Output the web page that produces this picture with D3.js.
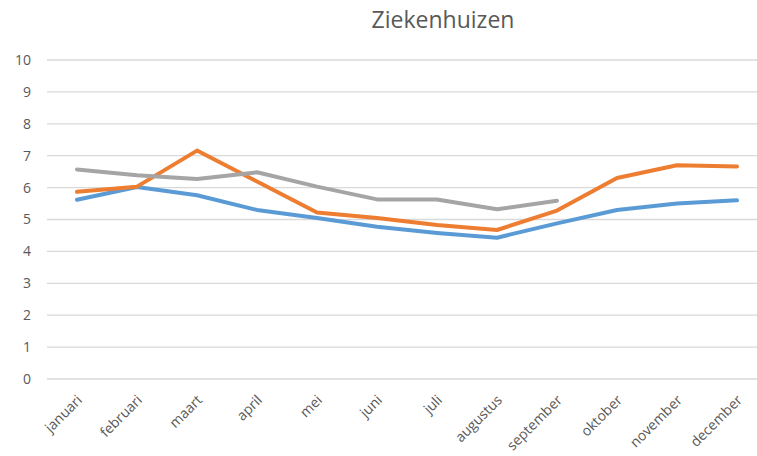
<!DOCTYPE html>
<html>
<head>
<meta charset="utf-8">
<script src="https://cdn.jsdelivr.net/npm/d3@7"></script>
<style>
  body { margin: 0; background: #fff; }
  svg { display: block; font-family: "Open Sans", "Noto Sans", sans-serif; }
</style>
</head>
<body>
<div id="chart-container"></div>
<script>
const months = ['januari', 'februari', 'maart', 'april', 'mei', 'juni', 'juli',
  'augustus', 'september', 'oktober', 'november', 'december'];
const blueValues = [5.62, 6.02, 5.76, 5.3, 5.05, 4.77, 4.58, 4.43, 4.88, 5.3, 5.5, 5.6];
const orangeValues = [5.87, 6.03, 7.16, 6.19, 5.22, 5.05, 4.83, 4.67, 5.28, 6.3, 6.7, 6.66];
const greyValues = [6.57, 6.39, 6.27, 6.48, 6.03, 5.63, 5.63, 5.32, 5.59, null, null, null];
const yTicks = [0, 1, 2, 3, 4, 5, 6, 7, 8, 9, 10];

const series = [
  { values: blueValues, color: '#5b9bd5' },
  { values: orangeValues, color: '#ed7d31' },
  { values: greyValues, color: '#a5a5a5' }
];

const width = 757, height = 456;

const svg = d3.select("#chart-container")
  .append("svg")
    .attr("width", width)
    .attr("height", height);

// scales
const x = d3.scaleBand()
  .domain(months)
  .range([47, 767]);

const y = d3.scaleLinear()
  .domain([0, 10])
  .range([379, 60]);

// gridlines
svg.append("g")
  .selectAll("line")
  .data(yTicks)
  .enter()
  .append("line")
    .attr("x1", 47)
    .attr("x2", 767)
    .attr("y1", d => y(d))
    .attr("y2", d => y(d))
    .attr("stroke", "#d9d9d9")
    .attr("stroke-width", 1.3);

// y axis
const yAxis = svg.append("g")
  .attr("transform", "translate(31,0)")
  .call(d3.axisLeft(y).tickValues(yTicks).tickSize(0).tickPadding(0));
yAxis.select(".domain").remove();
yAxis.selectAll("text")
  .attr("fill", "#595959")
  .style("font-size", "14px")
  .style("font-family", "'Open Sans', 'Noto Sans', sans-serif");

// x axis
const xAxis = svg.append("g")
  .attr("transform", "translate(0,379)")
  .call(d3.axisBottom(x).tickSize(0).tickPadding(0));
xAxis.select(".domain").remove();
xAxis.selectAll("text")
  .attr("fill", "#595959")
  .style("font-size", "14px")
  .style("font-family", "'Open Sans', 'Noto Sans', sans-serif")
  .attr("text-anchor", "end")
  .attr("dy", 0)
  .attr("transform", "translate(6,22) rotate(-45)");

// lines
const line = d3.line()
  .defined(d => d != null)
  .x((d, i) => x(months[i]) + x.bandwidth() / 2)
  .y(d => y(d));

svg.selectAll(".series")
  .data(series)
  .enter()
  .append("path")
    .attr("class", "series")
    .attr("fill", "none")
    .attr("stroke", d => d.color)
    .attr("stroke-width", 4)
    .attr("stroke-linejoin", "round")
    .attr("stroke-linecap", "round")
    .attr("d", d => line(d.values));

// title
svg.append("text")
  .attr("x", 443)
  .attr("y", 28)
  .attr("text-anchor", "middle")
  .attr("fill", "#595959")
  .style("font-size", "23px")
  .text("Ziekenhuizen");
</script>
</body>
</html>
